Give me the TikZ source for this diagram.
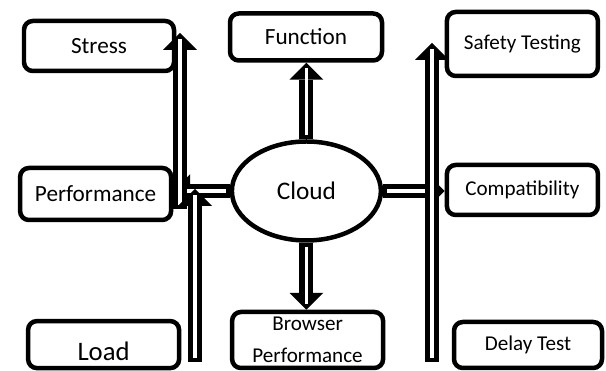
\documentclass[tikz,border=0pt]{standalone}
\usepackage{fontspec}
\setmainfont{Carlito}
\usetikzlibrary{arrows.meta,shapes.geometric}
\tikzset{every picture/.style={line width=0.75pt}}
\tikzset{
    testbox/.style={draw, line width=3.2pt, rounded corners=0.22cm, inner sep=2pt, align=center},
    bigtext/.style={font=\fontsize{16.5}{20}\selectfont},
    smalltext/.style={font=\fontsize{15}{22.5}\selectfont},
    hollowarrow/.style={line width=10pt, -{Triangle[width=24pt,length=12pt,line width=0pt]},
        postaction={draw, white, line width=2.6pt, -, shorten <=2.8pt, shorten >=4pt}}
}

\begin{document}
\begin{tikzpicture}
    \useasboundingbox (0,0) rectangle (15.15,9.275);

    % Centre
    \node[draw, ellipse, line width=3.2pt, inner sep=0pt, minimum width=3.725cm, minimum height=2.475cm,
        font=\fontsize{18}{22}\selectfont] (cloud) at (7.66,4.5) {Cloud};

    % Top row
    \node[testbox, bigtext, minimum width=3.75cm, minimum height=1.25cm] (stress) at (2.475,8.125) {Stress};
    \node[testbox, bigtext, minimum width=3.8cm, minimum height=1.175cm] (function) at (7.65,8.35) {Function};
    \node[testbox, smalltext, minimum width=3.775cm, minimum height=1.6cm] (safety) at (13.06,8.175) {Safety Testing};

    % Middle row
    \node[testbox, bigtext, minimum width=3.775cm, minimum height=1.3cm] (perf) at (2.39,4.425) {Performance};
    \node[testbox, smalltext, minimum width=3.775cm, minimum height=1.25cm] (compat) at (13.06,4.525) {Compatibility};

    % Bottom row
    \node[testbox, font=\fontsize{19}{23}\selectfont, text height=0.8cm, minimum width=3.775cm, minimum height=1.175cm] (load) at (2.59,0.66) {Load};
    \node[testbox, smalltext, minimum width=3.775cm, minimum height=1.4cm] (browser) at (7.69,0.775) {Browser\\Performance};
    \node[testbox, smalltext, minimum width=3.7cm, minimum height=1.15cm] (delay) at (13.2,0.65) {Delay Test};

    % Free ends of the long arrows
    \coordinate (stress tail) at (4.5,4.05);
    \coordinate (stress tip) at (4.5,8.45);
    \coordinate (load tail) at (4.875,0.225);
    \coordinate (load tip) at (4.875,4.55);
    \coordinate (safety tail) at (10.8,0.225);
    \coordinate (safety tip) at (10.8,8.2);

    % Arrows
    \draw[hollowarrow] (cloud.north) -- (cloud.north |- function.south);
    \draw[hollowarrow] (cloud.south) -- (cloud.south |- browser.north);
    \draw[hollowarrow] (cloud.west) -- (cloud.west -| perf.east);
    \draw[hollowarrow] (cloud.east) -- (cloud.east -| compat.west);
    \draw[hollowarrow] (stress tail) -- (stress tip);
    \draw[hollowarrow] (load tail) -- (load tip);
    \draw[hollowarrow] (safety tail) -- (safety tip);
\end{tikzpicture}
\end{document}
